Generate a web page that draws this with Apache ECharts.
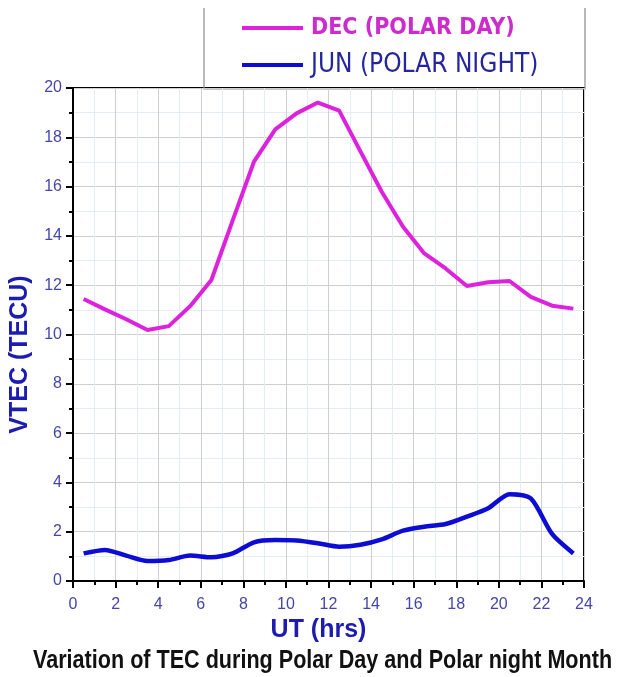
<!DOCTYPE html>
<html>
<head>
<meta charset="utf-8">
<title>Variation of TEC during Polar Day and Polar night Month</title>
<script src="https://cdn.jsdelivr.net/npm/echarts@6/dist/echarts.min.js"></script>
<style>
  html, body { margin: 0; padding: 0; background: #ffffff; }
  #chart { width: 619px; height: 677px; }
</style>
</head>
<body>
<div id="chart"></div>
<script>
// Universal time of each hourly mean (hrs)
const hours = [0.5, 1.5, 2.5, 3.5, 4.5, 5.5, 6.5, 7.5, 8.5, 9.5, 10.5, 11.5,
               12.5, 13.5, 14.5, 15.5, 16.5, 17.5, 18.5, 19.5, 20.5, 21.5, 22.5, 23.5];

// Hourly mean VTEC (TECU), December - polar day
const decVtec = [11.44, 11.02, 10.62, 10.18, 10.34, 11.15, 12.21, 14.63, 17.01, 18.32, 18.97, 19.41,
                 19.08, 17.43, 15.79, 14.37, 13.29, 12.68, 11.97, 12.12, 12.17, 11.53, 11.17, 11.05];

// Hourly mean VTEC (TECU), June - polar night
const junVtec = [1.12, 1.26, 1.03, 0.81, 0.85, 1.03, 0.96, 1.12, 1.57, 1.66, 1.64, 1.53,
                 1.39, 1.47, 1.69, 2.04, 2.20, 2.31, 2.61, 2.95, 3.52, 3.35, 1.91, 1.12];

const seriesNames = ['DEC (POLAR DAY)', 'JUN (POLAR NIGHT)'];
const captionText = 'Variation of TEC during Polar Day and Polar night Month';

const pairs = (xs, ys) => xs.map((x, i) => [x, ys[i]]);

const CONDENSED = '"DejaVu Sans Condensed", "Liberation Sans Narrow", "Liberation Sans", Arial, sans-serif';
const SANS = '"Liberation Sans", Arial, sans-serif';
const tickColor = '#4646a6';
const nameColor = '#1c1cb0';

const chart = echarts.init(document.getElementById('chart'), null, { renderer: 'canvas' });

chart.setOption({
  backgroundColor: '#ffffff',
  animation: false,
  legend: {
    orient: 'vertical',
    left: 242,
    top: 14,
    padding: 0,
    icon: 'rect',
    itemWidth: 61,
    itemHeight: 4,
    itemGap: 9,
    data: [
      { name: seriesNames[0], textStyle: { color: '#cc2ccc', fontWeight: 'bold', fontSize: 23 } },
      { name: seriesNames[1], textStyle: { color: '#26269c', fontWeight: 'normal', fontSize: 26 } }
    ],
    textStyle: { fontFamily: CONDENSED, lineHeight: 28, padding: [0, 0, 0, 3] }
  },
  graphic: [
    {
      // open-topped frame around the legend
      type: 'polyline',
      shape: { points: [[204, 8], [204, 89], [585, 89], [585, 8]] },
      style: { stroke: '#8a8a8a', lineWidth: 1.2, fill: null },
      silent: true
    },
    {
      // caption under the plot, set in a narrow bold face
      type: 'text',
      x: 33,
      y: 648,
      scaleX: 0.83,
      style: {
        text: captionText,
        font: 'bold 26px "Liberation Sans", Arial, sans-serif',
        fill: '#111111',
        verticalAlign: 'top',
        align: 'left'
      },
      silent: true
    }
  ],
  grid: {
    left: 73, right: 35, top: 88, bottom: 96,
    outerBoundsMode: 'none',
    show: true,
    borderColor: '#000000',
    borderWidth: 2,
    backgroundColor: 'transparent'
  },
  xAxis: {
    type: 'value',
    min: 0, max: 24, interval: 2,
    name: 'UT (hrs)',
    nameLocation: 'middle',
    nameGap: 32,
    nameTextStyle: { fontFamily: SANS, fontWeight: 'bold', fontSize: 25, color: nameColor, padding: [0, 20, 0, 0] },
    axisLine: { show: true, onZero: false, lineStyle: { color: '#000000', width: 2 } },
    axisTick: { show: true, inside: false, length: 7, lineStyle: { color: '#000000', width: 2 } },
    minorTick: { show: true, splitNumber: 2, length: 4, lineStyle: { color: '#000000', width: 2 } },
    axisLabel: { fontFamily: SANS, fontSize: 16, color: tickColor, margin: 16 },
    splitLine: { show: true, lineStyle: { color: '#cfcfcf', width: 1 } },
    minorSplitLine: { show: true, lineStyle: { color: '#e4ecf4', width: 1 } }
  },
  yAxis: {
    type: 'value',
    min: 0, max: 20, interval: 2,
    name: 'VTEC (TECU)',
    nameLocation: 'middle',
    nameGap: 40,
    nameTextStyle: { fontFamily: SANS, fontWeight: 'bold', fontSize: 25, color: nameColor, padding: [0, 40, 0, 0] },
    axisLine: { show: true, onZero: false, lineStyle: { color: '#000000', width: 2 } },
    axisTick: { show: true, inside: false, length: 7, lineStyle: { color: '#000000', width: 2 } },
    minorTick: { show: true, splitNumber: 2, length: 4, lineStyle: { color: '#000000', width: 2 } },
    axisLabel: { fontFamily: SANS, fontSize: 16, color: tickColor, margin: 11 },
    splitLine: { show: true, lineStyle: { color: '#cfcfcf', width: 1 } },
    minorSplitLine: { show: true, lineStyle: { color: '#e4ecf4', width: 1 } }
  },
  series: [
    {
      name: seriesNames[0],
      type: 'line',
      data: pairs(hours, decVtec),
      showSymbol: false,
      smooth: false,
      color: '#dd22dd',
      lineStyle: { color: '#dd22dd', width: 4 },
      z: 3
    },
    {
      name: seriesNames[1],
      type: 'line',
      data: pairs(hours, junVtec),
      showSymbol: false,
      smooth: 0.25,
      color: '#0c0cd2',
      lineStyle: { color: '#0c0cd2', width: 4.5 },
      z: 3
    }
  ]
});
</script>
</body>
</html>
